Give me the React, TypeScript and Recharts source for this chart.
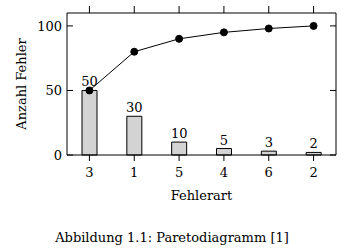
import React from 'react';
import { ComposedChart, Bar, Line, XAxis, YAxis, LabelList, Label } from 'recharts';

const categories = ['3', '1', '5', '4', '6', '2'];
const counts = [50, 30, 10, 5, 3, 2];
const cumulative = [50, 80, 90, 95, 98, 100];
const yTicks = [0, 50, 100];
const xLabel = 'Fehlerart';
const yLabel = 'Anzahl Fehler';
const caption = 'Abbildung 1.1: Paretodiagramm [1]';

const data = categories.map((c, i) => ({ cat: c, count: counts[i], cum: cumulative[i] }));

const FONT = 'DejaVu Serif';
const blank = () => '';

const XLabelContent = (props: any) => {
  const vb = props.viewBox || { x: 0, y: 0, width: 0, height: 0 };
  const cx = vb.x + vb.width / 2;
  return (
    <g>
      <text x={cx} y={vb.y + 45} textAnchor="middle" fill="#000">
        {xLabel}
      </text>
      <text x={cx - 29.5} y={vb.y + 86.5} textAnchor="middle" fill="#000">
        {caption}
      </text>
    </g>
  );
};

const YLabelContent = (props: any) => {
  const vb = props.viewBox || { x: 0, y: 0, width: 0, height: 0 };
  const cx = vb.x + 26;
  const cy = vb.y + vb.height / 2;
  return (
    <text x={cx} y={cy} transform={`rotate(-90, ${cx}, ${cy})`} textAnchor="middle" fill="#000">
      {yLabel}
    </text>
  );
};

export default function App() {
  return (
    <div style={{ position: 'absolute', left: 0, top: 0, fontFamily: FONT, fontSize: 13 }}>
      <ComposedChart width={362} height={252} data={data} margin={{ top: 12, right: 0, bottom: 0, left: 0 }}>
        <XAxis xAxisId="bottom" dataKey="cat" height={97} stroke="#000" tickSize={6} tickMargin={7}>
          <Label content={XLabelContent} />
        </XAxis>
        <XAxis
          xAxisId="top"
          dataKey="cat"
          orientation="top"
          height={1}
          stroke="#000"
          tickSize={7}
          tickFormatter={blank}
          interval={0}
        />
        <YAxis
          yAxisId="left"
          domain={[0, 110]}
          ticks={yTicks}
          width={67}
          stroke="#000"
          tickSize={-6}
          tickMargin={11}
        >
          <Label content={YLabelContent} />
        </YAxis>
        <YAxis
          yAxisId="right"
          orientation="right"
          domain={[0, 110]}
          ticks={yTicks}
          stroke="#000"
          width={26}
          tickSize={-6}
          tickFormatter={blank}
          interval={0}
        />
        <Bar
          xAxisId="bottom"
          yAxisId="left"
          dataKey="count"
          barSize={15}
          fill="#d3d3d3"
          stroke="#000"
          isAnimationActive={false}
        >
          <LabelList dataKey="count" position="top" offset={4} fill="#000" fontSize={13} />
        </Bar>
        <Line
          xAxisId="top"
          yAxisId="right"
          dataKey="cum"
          stroke="#000"
          dot={{ r: 3.5, fill: '#000' }}
          activeDot={false}
          isAnimationActive={false}
        />
      </ComposedChart>
    </div>
  );
}
